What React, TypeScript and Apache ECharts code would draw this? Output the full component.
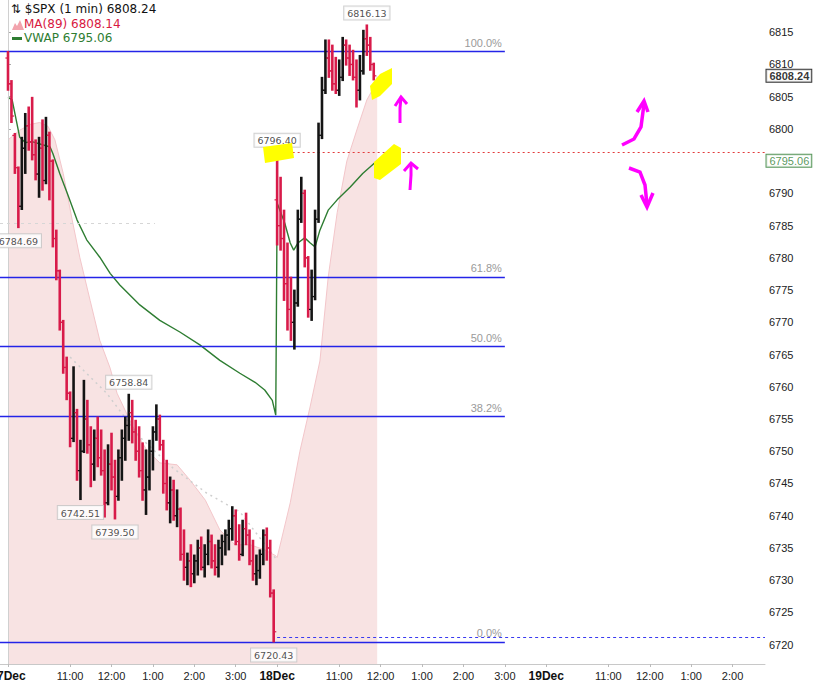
import React, { useEffect, useRef } from "react";
import * as echarts from "echarts";

// ---- Data (minute index: 0 = 17 Dec 9:30, 390 = 18 Dec 9:30, 780 = 19 Dec 9:30) ----
const BAR_MINUTES = 5;
const DEC17_START = 0;
const DEC18_START = 390;

const dec17Open = [6811.0, 6807.0, 6799.0, 6794.0, 6788.0, 6797.0, 6800.5, 6798.0, 6796.0, 6793.0, 6797.0, 6792.0, 6799.0, 6795.0, 6783.0, 6778.0, 6770.0, 6763.0, 6759.0, 6752.0, 6756.0, 6747.0, 6750.0, 6755.0, 6751.0, 6748.0, 6752.0, 6749.0, 6747.0, 6742.0, 6748.0, 6746.0, 6743.0, 6749.0, 6752.0, 6754.0, 6756.0, 6753.0, 6750.0, 6747.0, 6744.0, 6746.0, 6750.0, 6753.0, 6755.0, 6751.0, 6745.0, 6742.0, 6744.0, 6740.0, 6741.0, 6734.0, 6732.0, 6733.0, 6731.0, 6733.0, 6735.0, 6732.0, 6734.0, 6736.0, 6733.0, 6732.0, 6735.0, 6736.0, 6737.0, 6738.0, 6740.0, 6736.0, 6734.0, 6738.0, 6737.0, 6733.0, 6731.0, 6731.5, 6734.0, 6737.0, 6735.0, 6728.0];
const dec17High = [6812.0, 6807.5, 6799.3, 6794.1, 6798.7, 6802.4, 6803.4, 6804.9, 6798.3, 6798.7, 6801.4, 6801.8, 6799.5, 6795.2, 6784.3, 6778.1, 6770.3, 6764.6, 6759.2, 6763.1, 6756.5, 6751.7, 6761.0, 6757.9, 6753.8, 6753.3, 6755.3, 6753.3, 6750.2, 6751.0, 6752.8, 6748.6, 6750.2, 6753.3, 6755.3, 6758.84, 6757.9, 6754.8, 6753.8, 6751.3, 6750.2, 6751.7, 6753.8, 6757.2, 6755.6, 6751.7, 6748.6, 6746.0, 6745.5, 6744.0, 6741.2, 6737.8, 6734.2, 6735.5, 6733.9, 6736.2, 6736.7, 6735.5, 6737.8, 6737.0, 6735.5, 6736.2, 6737.0, 6737.8, 6739.3, 6741.4, 6740.9, 6738.6, 6739.3, 6740.4, 6737.8, 6736.2, 6733.9, 6734.7, 6737.8, 6738.1, 6736.2, 6728.5];
const dec17Low = [6806.0, 6801.0, 6793.1, 6784.69, 6787.5, 6793.1, 6796.7, 6795.2, 6792.1, 6789.4, 6790.5, 6791.5, 6789.0, 6781.7, 6776.6, 6768.8, 6762.1, 6758.0, 6750.7, 6751.5, 6745.5, 6742.51, 6749.8, 6749.7, 6744.5, 6745.5, 6747.6, 6746.3, 6739.8, 6741.7, 6744.0, 6739.5, 6742.4, 6745.5, 6748.6, 6751.7, 6751.3, 6748.6, 6746.0, 6742.4, 6740.2, 6744.0, 6747.1, 6751.7, 6750.2, 6743.5, 6740.9, 6738.9, 6739.3, 6738.3, 6733.1, 6730.0, 6729.3, 6729.0, 6729.6, 6730.8, 6731.6, 6730.5, 6732.4, 6731.9, 6730.8, 6730.5, 6732.4, 6733.9, 6734.7, 6736.2, 6735.5, 6733.1, 6733.8, 6735.5, 6732.4, 6730.0, 6729.3, 6730.3, 6732.4, 6733.1, 6727.4, 6720.43];
const dec17Close = [6807.0, 6802.0, 6794.0, 6788.0, 6797.0, 6800.5, 6798.0, 6796.0, 6793.0, 6797.0, 6792.0, 6799.0, 6795.0, 6783.0, 6778.0, 6770.0, 6763.0, 6759.0, 6752.0, 6756.0, 6747.0, 6750.0, 6755.0, 6751.0, 6748.0, 6752.0, 6749.0, 6747.0, 6742.0, 6748.0, 6746.0, 6743.0, 6749.0, 6752.0, 6754.0, 6756.0, 6753.0, 6750.0, 6747.0, 6744.0, 6746.0, 6750.0, 6753.0, 6755.0, 6751.0, 6745.0, 6742.0, 6744.0, 6740.0, 6741.0, 6734.0, 6732.0, 6733.0, 6731.0, 6733.0, 6735.0, 6732.0, 6734.0, 6736.0, 6733.0, 6732.0, 6735.0, 6736.0, 6737.0, 6738.0, 6740.0, 6736.0, 6734.0, 6738.0, 6737.0, 6733.0, 6731.0, 6731.5, 6734.0, 6737.0, 6735.0, 6728.0, 6722.0];

const dec18Open = [6789.0, 6785.0, 6783.0, 6776.0, 6772.0, 6770.0, 6773.0, 6786.0, 6790.0, 6780.0, 6772.0, 6774.0, 6786.0, 6799.0, 6806.0, 6811.0, 6809.0, 6807.0, 6806.0, 6808.0, 6813.0, 6811.0, 6810.0, 6808.0, 6806.0, 6809.0, 6814.0, 6813.0, 6810.0];
const dec18High = [6796.4, 6792.5, 6787.4, 6782.3, 6777.0, 6775.0, 6787.4, 6792.5, 6790.5, 6780.2, 6778.1, 6787.4, 6800.9, 6808.0, 6813.8, 6813.8, 6813.0, 6811.1, 6810.7, 6814.2, 6813.8, 6813.0, 6812.2, 6810.7, 6811.4, 6815.3, 6816.13, 6814.2, 6810.2];
const dec18Low = [6782.0, 6781.2, 6773.4, 6768.8, 6767.2, 6765.85, 6772.5, 6785.5, 6778.6, 6770.8, 6770.3, 6773.5, 6785.5, 6798.5, 6805.5, 6808.0, 6806.0, 6805.5, 6805.2, 6807.5, 6809.9, 6808.3, 6807.6, 6803.4, 6804.5, 6808.5, 6811.4, 6809.1, 6807.6];
const dec18Close = [6785.0, 6783.0, 6776.0, 6772.0, 6770.0, 6773.0, 6786.0, 6790.0, 6780.0, 6772.0, 6774.0, 6786.0, 6799.0, 6806.0, 6811.0, 6809.0, 6807.0, 6806.0, 6808.0, 6813.0, 6811.0, 6810.0, 6808.0, 6806.0, 6809.0, 6814.0, 6813.0, 6810.0, 6808.24];

// MA(89): [minute, value]
const maPoints: [number, number][] = [
  [0, 6798.3], [17, 6799.8], [32, 6800.7], [46, 6801.0], [58, 6800.4], [68, 6798.3], [80, 6793.1],
  [93, 6785.9], [104, 6780.1], [119, 6773.4], [133, 6767.2], [148, 6762.9], [158, 6759.0],
  [181, 6753.8], [201, 6750.2], [220, 6748.2], [245, 6747.9], [264, 6745.5], [286, 6742.4],
  [307, 6737.8], [329, 6735.5], [351, 6735.5], [372, 6734.7], [388, 6733.8],
  [390, 6733.5], [409, 6742.0], [423, 6750.0], [438, 6757.0], [452, 6764.0], [464, 6777.0],
  [477, 6787.0], [491, 6795.0], [506, 6800.0], [520, 6804.5], [533, 6807.0], [535, 6808.14],
];

// VWAP: [minute, value]
const vwapPoints: [number, number][] = [
  [0, 6804.9], [6, 6804.5], [17, 6798.7], [25, 6797.9], [36, 6798.0], [61, 6797.2], [65, 6796.2],
  [75, 6793.1], [86, 6790.0], [100, 6785.9], [114, 6782.8], [133, 6780.1], [148, 6777.6],
  [162, 6775.8], [191, 6772.7], [220, 6770.3], [249, 6768.5], [278, 6766.5], [307, 6764.1],
  [336, 6762.1], [358, 6760.7], [372, 6759.5], [383, 6757.9], [388, 6755.6],
  [390, 6788.5], [401, 6785.4], [409, 6782.3], [414, 6781.2], [420, 6782.3], [430, 6783.1],
  [438, 6782.3], [445, 6781.7], [452, 6784.3], [464, 6787.4], [477, 6789.0], [496, 6791.0],
  [514, 6793.1], [532, 6794.8], [535, 6795.06],
];

// light grey dotted trail
const dottedTrail: [number, number][] = [
  [90, 6764.6], [143, 6759.0], [191, 6752.2], [239, 6747.4], [288, 6743.5], [336, 6740.6], [390, 6733.1],
];

const fibLabels = ["100.0%", "61.8%", "50.0%", "38.2%", "0.0%"];
const fibValues = [6812.05, 6777.04, 6766.24, 6755.43, 6720.43];
const FIB_END = 720;

const highCallouts: [number, number][] = [[520, 6816.13], [390, 6796.4], [175, 6758.84]];
const lowCallouts: [number, number][] = [[15, 6784.69], [105, 6742.51], [155, 6739.5], [385, 6720.43]];

const priorLevel = 6785.4;
const priorLevelEnd = 213;
const gapHigh = 6796.4;
const gapHighStart = 398;
const prevCloseLevel = 6721.2;

const yTicks = [6720, 6725, 6730, 6735, 6740, 6745, 6750, 6755, 6760, 6765, 6770, 6775, 6780, 6785, 6790, 6795, 6800, 6805, 6810, 6815];
// 6795 is hidden behind the VWAP price box in the original
const yLabelValues = [6720, 6725, 6730, 6735, 6740, 6745, 6750, 6755, 6760, 6765, 6770, 6775, 6780, 6785, 6790, 6800, 6805, 6810, 6815];
const xTickValues = [0, 90, 150, 210, 270, 330, 390, 480, 540, 600, 660, 720, 780, 870, 930, 990, 1050];
const xTickLabels = ["17Dec", "11:00", "12:00", "1:00", "2:00", "3:00", "18Dec", "11:00", "12:00", "1:00", "2:00", "3:00", "19Dec", "11:00", "12:00", "1:00", "2:00"];

const X_MIN = -11.6;
const X_MAX = 1097;
const Y_MIN = 6717;
const Y_MAX = 6820;

const AX_FONT = "Liberation Sans";
const UI_FONT = "DejaVu Sans";

function buildBars() {
  const out: number[][] = [];
  dec17Open.forEach((o, i) => out.push([DEC17_START + i * BAR_MINUTES, o, dec17High[i], dec17Low[i], dec17Close[i]]));
  dec18Open.forEach((o, i) => out.push([DEC18_START + i * BAR_MINUTES, o, dec18High[i], dec18Low[i], dec18Close[i]]));
  return out;
}

export default function App() {
  const ref = useRef<HTMLDivElement>(null);

  useEffect(() => {
    if (!ref.current) return;
    const chart = echarts.init(ref.current, undefined, { renderer: "svg" });
    const bars = buildBars();
    const lastClose = dec18Close[dec18Close.length - 1];
    const lastMA = maPoints[maPoints.length - 1][1];
    const lastVWAP = vwapPoints[vwapPoints.length - 1][1];

    const calloutLabel = {
      show: true,
      formatter: (p: any) => p.value[1].toFixed(2),
      backgroundColor: "#fff",
      borderColor: "#c4c4c4",
      borderWidth: 1,
      padding: [2, 3, 1, 3],
      fontSize: 9.5,
      fontFamily: UI_FONT,
      color: "#222",
    };

    const option: any = {
      animation: false,
      backgroundColor: "#fff",
      grid: { left: 0, right: 68, top: 0, bottom: 21, containLabel: false, outerBoundsMode: "none" },
      xAxis: {
        type: "value",
        min: X_MIN,
        max: X_MAX,
        splitLine: { show: false },
        axisLine: { show: true, lineStyle: { color: "#c8c8c8" } },
        axisTick: { show: true, customValues: xTickValues, length: 3, lineStyle: { color: "#bbb" } },
        axisLabel: {
          customValues: xTickValues,
          margin: 6,
          fontSize: 11,
          fontFamily: AX_FONT,
          color: "#222",
          hideOverlap: false,
          formatter: (v: number) => {
            const i = xTickValues.indexOf(Math.round(v));
            if (i < 0) return "";
            const t = xTickLabels[i];
            return t.indexOf("Dec") >= 0 ? "{b|" + t + "}" : t;
          },
          rich: { b: { fontWeight: "bold", fontSize: 12, fontFamily: AX_FONT, color: "#111" } },
        },
      },
      yAxis: {
        type: "value",
        position: "right",
        min: Y_MIN,
        max: Y_MAX,
        splitLine: { show: false },
        axisLine: { show: true, lineStyle: { color: "#c8c8c8" } },
        axisTick: { show: true, customValues: yTicks, length: 3, lineStyle: { color: "#aaa" } },
        axisLabel: {
          customValues: yLabelValues,
          margin: 4,
          fontSize: 11,
          fontFamily: AX_FONT,
          color: "#222",
          formatter: (v: number) => String(Math.round(v)),
        },
      },
      series: [
        {
          type: "line",
          name: "MA(89)",
          data: maPoints,
          showSymbol: false,
          symbol: "none",
          lineStyle: { color: "#f3c6ca", width: 1 },
          areaStyle: { color: "#f8e3e3", opacity: 1, origin: "start" },
          z: 1,
          silent: true,
          markLine: {
            silent: true,
            symbol: "none",
            animation: false,
            label: { show: false },
            lineStyle: { color: "#d0d0d0", width: 1, type: "solid" },
            data: [{ xAxis: 0 }],
          },
        },
        {
          type: "line",
          name: "trail",
          data: dottedTrail,
          showSymbol: false,
          symbol: "none",
          lineStyle: { color: "#cfcfcf", width: 1.5, type: [2, 4] },
          z: 2,
          silent: true,
        },
        {
          type: "line",
          name: "VWAP",
          data: vwapPoints,
          showSymbol: false,
          symbol: "none",
          lineStyle: { color: "#2e7d32", width: 1.4 },
          z: 4,
          silent: true,
        },
        {
          type: "custom",
          name: "$SPX",
          data: bars,
          encode: { x: 0, y: [1, 2, 3, 4] },
          z: 5,
          silent: true,
          renderItem: (_params: any, api: any) => {
            const t = api.value(0);
            const o = api.value(1);
            const h = api.value(2);
            const l = api.value(3);
            const c = api.value(4);
            const top = api.coord([t, h]);
            const bot = api.coord([t, l]);
            const op = api.coord([t, o]);
            const cp = api.coord([t, c]);
            const color = c >= o ? "#141414" : "#d81b4a";
            return {
              type: "group",
              children: [
                { type: "line", shape: { x1: top[0], y1: top[1] - 0.5, x2: bot[0], y2: bot[1] + 0.5 }, style: { stroke: color, lineWidth: 2.6 } },
                { type: "line", shape: { x1: op[0] - 2.6, y1: op[1], x2: op[0], y2: op[1] }, style: { stroke: color, lineWidth: 1.2 } },
                { type: "line", shape: { x1: cp[0], y1: cp[1], x2: cp[0] + 2.6, y2: cp[1] }, style: { stroke: color, lineWidth: 1.2 } },
              ],
            };
          },
        },
        {
          type: "line",
          name: "levels",
          data: [],
          z: 6,
          silent: true,
          markLine: {
            silent: true,
            symbol: "none",
            animation: false,
            data: [
              ...fibValues.map((v, i) => [
                {
                  coord: [X_MIN, v],
                  name: fibLabels[i],
                  lineStyle: { color: "#2424e8", width: 1.3, type: "solid" },
                  label: { show: true, position: "insideEndTop", formatter: "{b}", color: "#9a9a9a", fontSize: 11, fontFamily: AX_FONT, distance: 3 },
                },
                { coord: [FIB_END, v] },
              ]),
              [
                { coord: [gapHighStart, gapHigh], lineStyle: { color: "#e23a3a", width: 1, type: [2, 3] }, label: { show: false } },
                { coord: [X_MAX, gapHigh] },
              ],
              [
                { coord: [DEC18_START, prevCloseLevel], lineStyle: { color: "#3a3af0", width: 1, type: [3, 3] }, label: { show: false } },
                { coord: [X_MAX, prevCloseLevel] },
              ],
              [
                { coord: [X_MIN, priorLevel], lineStyle: { color: "#d6d6d6", width: 1, type: [3, 4] }, label: { show: false } },
                { coord: [priorLevelEnd, priorLevel] },
              ],
            ],
          },
        },
        {
          type: "scatter",
          name: "highs",
          data: highCallouts,
          symbolSize: 1,
          itemStyle: { color: "rgba(0,0,0,0)" },
          label: { ...calloutLabel, position: "top", distance: 5 },
          z: 10,
          silent: true,
        },
        {
          type: "scatter",
          name: "lows",
          data: lowCallouts,
          symbolSize: 1,
          itemStyle: { color: "rgba(0,0,0,0)" },
          label: { ...calloutLabel, position: "bottom", distance: 6 },
          z: 10,
          silent: true,
        },
        {
          type: "scatter",
          name: "axisBoxes",
          clip: false,
          data: [
            {
              value: [X_MAX, lastClose],
              label: { color: "#000", fontWeight: "bold", borderColor: "#000" },
            },
            {
              value: [X_MAX, lastVWAP],
              label: { color: "#2e7d32", fontWeight: "normal", borderColor: "#2e7d32" },
            },
          ],
          symbolSize: 1,
          itemStyle: { color: "rgba(0,0,0,0)" },
          label: {
            show: true,
            position: "right",
            distance: 1,
            formatter: (p: any) => p.value[1].toFixed(2),
            backgroundColor: "#fff",
            borderWidth: 1,
            padding: [1, 2, 0, 3],
            fontSize: 11,
            fontFamily: AX_FONT,
          },
          z: 12,
          silent: true,
        },
      ],
      graphic: [
        { type: "text", left: 11, top: 3, z: 50, style: { text: "\u21C5 $SPX (1 min) " + lastClose.toFixed(2), fontSize: 12, fontFamily: UI_FONT, fill: "#111" } },
        { type: "polygon", z: 50, shape: { points: [[12, 30], [15, 23], [17, 26], [20, 20], [24, 30]] }, style: { fill: "#f2a3ad" } },
        { type: "text", left: 24, top: 18, z: 50, style: { text: "MA(89) " + lastMA.toFixed(2), fontSize: 12, fontFamily: UI_FONT, fill: "#d8193f" } },
        { type: "rect", z: 50, shape: { x: 12, y: 37, width: 10, height: 3 }, style: { fill: "#2e7d32" } },
        { type: "text", left: 24, top: 32, z: 50, style: { text: "VWAP " + lastVWAP.toFixed(2), fontSize: 12, fontFamily: UI_FONT, fill: "#2e7d32" } },
        // yellow highlights
        { type: "polygon", z: 60, shape: { points: [[372, 100], [370, 86], [380, 74], [392, 68], [392, 84], [380, 96]] }, style: { fill: "#ffff00" } },
        { type: "polygon", z: 60, shape: { points: [[263, 147], [292, 143], [294, 158], [265, 163]] }, style: { fill: "#ffff00" } },
        { type: "polygon", z: 60, shape: { points: [[374, 162], [394, 144], [401, 148], [401, 164], [380, 180], [374, 178]] }, style: { fill: "#ffff00" } },
        // magenta arrows
        { type: "polyline", z: 61, shape: { points: [[400, 123], [400, 108], [401, 97]] }, style: { stroke: "#ff00ff", lineWidth: 3, fill: null } },
        { type: "polyline", z: 61, shape: { points: [[395, 106], [401, 97], [407, 104]] }, style: { stroke: "#ff00ff", lineWidth: 3, fill: null } },
        { type: "polyline", z: 61, shape: { points: [[410, 190], [411, 175], [411, 164]] }, style: { stroke: "#ff00ff", lineWidth: 3, fill: null } },
        { type: "polyline", z: 61, shape: { points: [[404, 171], [411, 163], [418, 169]] }, style: { stroke: "#ff00ff", lineWidth: 3, fill: null } },
        { type: "polyline", z: 61, shape: { points: [[622, 145], [634, 139], [641, 127], [644, 104]] }, style: { stroke: "#ff00ff", lineWidth: 3.5, fill: null } },
        { type: "polyline", z: 61, shape: { points: [[637, 112], [644, 101], [648, 112]] }, style: { stroke: "#ff00ff", lineWidth: 3.5, fill: null } },
        { type: "polyline", z: 61, shape: { points: [[629, 168], [640, 172], [645, 185], [647, 205]] }, style: { stroke: "#ff00ff", lineWidth: 3.5, fill: null } },
        { type: "polyline", z: 61, shape: { points: [[641, 195], [647, 207], [653, 193]] }, style: { stroke: "#ff00ff", lineWidth: 3.5, fill: null } },
      ],
    };

    chart.setOption(option);
    return () => chart.dispose();
  }, []);

  return (
    <div
      ref={ref}
      style={{ position: "fixed", left: 0, top: 0, width: 833, height: 685, background: "#fff" }}
    />
  );
}
